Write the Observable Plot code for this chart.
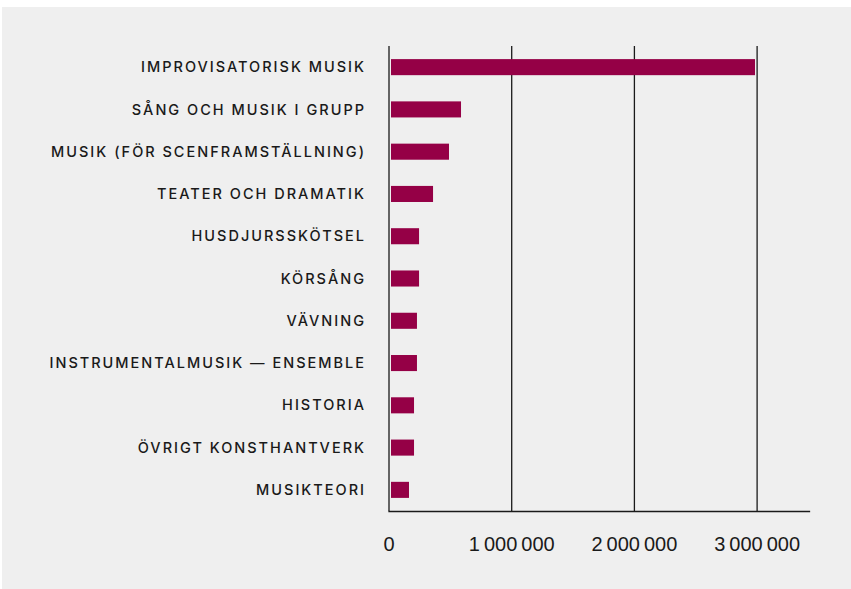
<!DOCTYPE html>
<html>
<head>
<meta charset="utf-8">
<script src="https://cdn.jsdelivr.net/npm/d3@7"></script>
<script src="https://cdn.jsdelivr.net/npm/@observablehq/plot@0.6"></script>
<style>
  html, body { margin: 0; padding: 0; background: #ffffff; }
  #wrap { position: absolute; left: 2px; top: 7px; width: 849px; height: 582px; background: #efefef; }
  .chart { background: #efefef; display: block; }
  .chart g[aria-label="y-axis tick label"] text {
    font-family: Inter, "Noto Sans", sans-serif; font-size: 14.5px; font-weight: 500; letter-spacing: 2px; fill: #1a1a1a;
  }
  .chart g[aria-label="x-axis tick label"] text {
    font-family: "Liberation Sans", Arial, sans-serif; font-size: 20px; fill: #1a1a1a;
  }
</style>
</head>
<body>
<div id="wrap"></div>
<script>
const categories = [
  "IMPROVISATORISK MUSIK",
  "SÅNG OCH MUSIK I GRUPP",
  "MUSIK (FÖR SCENFRAMSTÄLLNING)",
  "TEATER OCH DRAMATIK",
  "HUSDJURSSKÖTSEL",
  "KÖRSÅNG",
  "VÄVNING",
  "INSTRUMENTALMUSIK — ENSEMBLE",
  "HISTORIA",
  "ÖVRIGT KONSTHANTVERK",
  "MUSIKTEORI"
];
const values = [2987000, 591000, 493000, 363000, 249000, 249000, 232000, 232000, 208000, 208000, 167000];
const xTicks = [0, 1000000, 2000000, 3000000];

const data = categories.map((c, i) => ({category: c, value: values[i]}));
const fmt = v => d3.format(",")(v).replace(/,/g, "\u2009");

const chart = Plot.plot({
  className: "chart",
  width: 849,
  height: 582,
  marginLeft: 386.5,
  marginRight: 42,
  marginTop: 39,
  marginBottom: 78,
  style: {background: "#efefef", overflow: "visible"},
  x: {domain: [0, 3427000], ticks: xTicks, label: null},
  y: {domain: categories, label: null, paddingInner: 0.62, paddingOuter: 0.31, round: false},
  marks: [
    Plot.ruleX(xTicks, {stroke: "#1a1a1a", strokeWidth: 1.3}),
    Plot.frame({anchor: "bottom", stroke: "#1a1a1a", strokeWidth: 1.3}),
    Plot.barX(data, {x: "value", y: "category", fill: "#950046", insetLeft: 2.5}),
    Plot.axisX({ticks: xTicks, tickSize: 0, tickPadding: 25, tickFormat: fmt, label: null}),
    Plot.axisY({tickSize: 0, tickPadding: 23, label: null})
  ]
});
document.getElementById("wrap").appendChild(chart);
</script>
</body>
</html>
